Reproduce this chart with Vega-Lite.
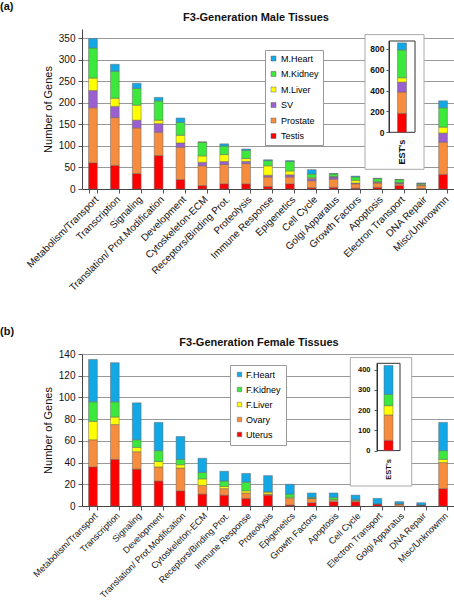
{
"$schema": "https://vega.github.io/schema/vega-lite/v6.json",
"padding": {"left": 0, "top": 1, "right": 0, "bottom": 0},
"background": "white",
"spacing": 33,
"resolve": {"scale": {"color": "independent"}, "legend": {"color": "independent"}},
"config": {
  "font": "Liberation Sans",
  "view": {"stroke": null},
  "axis": {"labelColor": "#111", "titleColor": "#111", "domainColor": "#555", "tickColor": "#555"},
  "title": {"color": "#111"}
},
"datasets": {
  "male": [
    {"c":"Metabolism/Transport","t":"Testis","n":61},{"c":"Metabolism/Transport","t":"Prostate","n":128},{"c":"Metabolism/Transport","t":"SV","n":40},{"c":"Metabolism/Transport","t":"M.Liver","n":29},{"c":"Metabolism/Transport","t":"M.Kidney","n":70},{"c":"Metabolism/Transport","t":"M.Heart","n":22},
    {"c":"Transcription","t":"Testis","n":55},{"c":"Transcription","t":"Prostate","n":111},{"c":"Transcription","t":"SV","n":26},{"c":"Transcription","t":"M.Liver","n":19},{"c":"Transcription","t":"M.Kidney","n":63},{"c":"Transcription","t":"M.Heart","n":16},
    {"c":"Signaling","t":"Testis","n":36},{"c":"Signaling","t":"Prostate","n":106},{"c":"Signaling","t":"SV","n":18},{"c":"Signaling","t":"M.Liver","n":35},{"c":"Signaling","t":"M.Kidney","n":39},{"c":"Signaling","t":"M.Heart","n":12},
    {"c":"Translation/ Prot.Modification","t":"Testis","n":78},{"c":"Translation/ Prot.Modification","t":"Prostate","n":54},{"c":"Translation/ Prot.Modification","t":"SV","n":20},{"c":"Translation/ Prot.Modification","t":"M.Liver","n":8},{"c":"Translation/ Prot.Modification","t":"M.Kidney","n":45},{"c":"Translation/ Prot.Modification","t":"M.Heart","n":8},
    {"c":"Development","t":"Testis","n":22},{"c":"Development","t":"Prostate","n":75},{"c":"Development","t":"SV","n":10},{"c":"Development","t":"M.Liver","n":18},{"c":"Development","t":"M.Kidney","n":30},{"c":"Development","t":"M.Heart","n":10},
    {"c":"Cytoskeleton-ECM","t":"Testis","n":8},{"c":"Cytoskeleton-ECM","t":"Prostate","n":46},{"c":"Cytoskeleton-ECM","t":"SV","n":8},{"c":"Cytoskeleton-ECM","t":"M.Liver","n":15},{"c":"Cytoskeleton-ECM","t":"M.Kidney","n":32},{"c":"Cytoskeleton-ECM","t":"M.Heart","n":0},
    {"c":"Receptors/Binding Prot.","t":"Testis","n":12},{"c":"Receptors/Binding Prot.","t":"Prostate","n":45},{"c":"Receptors/Binding Prot.","t":"SV","n":7},{"c":"Receptors/Binding Prot.","t":"M.Liver","n":16},{"c":"Receptors/Binding Prot.","t":"M.Kidney","n":20},{"c":"Receptors/Binding Prot.","t":"M.Heart","n":5},
    {"c":"Proteolysis","t":"Testis","n":12},{"c":"Proteolysis","t":"Prostate","n":47},{"c":"Proteolysis","t":"SV","n":5},{"c":"Proteolysis","t":"M.Liver","n":7},{"c":"Proteolysis","t":"M.Kidney","n":19},{"c":"Proteolysis","t":"M.Heart","n":3},
    {"c":"Immune Response","t":"Testis","n":6},{"c":"Immune Response","t":"Prostate","n":22},{"c":"Immune Response","t":"SV","n":4},{"c":"Immune Response","t":"M.Liver","n":22},{"c":"Immune Response","t":"M.Kidney","n":12},{"c":"Immune Response","t":"M.Heart","n":2},
    {"c":"Epigenetics","t":"Testis","n":12},{"c":"Epigenetics","t":"Prostate","n":16},{"c":"Epigenetics","t":"SV","n":5},{"c":"Epigenetics","t":"M.Liver","n":9},{"c":"Epigenetics","t":"M.Kidney","n":22},{"c":"Epigenetics","t":"M.Heart","n":2},
    {"c":"Cell Cycle","t":"Testis","n":3},{"c":"Cell Cycle","t":"Prostate","n":16},{"c":"Cell Cycle","t":"SV","n":5},{"c":"Cell Cycle","t":"M.Liver","n":2},{"c":"Cell Cycle","t":"M.Kidney","n":9},{"c":"Cell Cycle","t":"M.Heart","n":10},
    {"c":"Golgi Apparatus","t":"Testis","n":4},{"c":"Golgi Apparatus","t":"Prostate","n":19},{"c":"Golgi Apparatus","t":"SV","n":5},{"c":"Golgi Apparatus","t":"M.Liver","n":1},{"c":"Golgi Apparatus","t":"M.Kidney","n":6},{"c":"Golgi Apparatus","t":"M.Heart","n":1},
    {"c":"Growth Factors","t":"Testis","n":2},{"c":"Growth Factors","t":"Prostate","n":10},{"c":"Growth Factors","t":"SV","n":2},{"c":"Growth Factors","t":"M.Liver","n":6},{"c":"Growth Factors","t":"M.Kidney","n":8},{"c":"Growth Factors","t":"M.Heart","n":2},
    {"c":"Apoptosis","t":"Testis","n":4},{"c":"Apoptosis","t":"Prostate","n":10},{"c":"Apoptosis","t":"SV","n":2},{"c":"Apoptosis","t":"M.Liver","n":1},{"c":"Apoptosis","t":"M.Kidney","n":7},{"c":"Apoptosis","t":"M.Heart","n":1},
    {"c":"Electron Transport","t":"Testis","n":8},{"c":"Electron Transport","t":"Prostate","n":4},{"c":"Electron Transport","t":"SV","n":2},{"c":"Electron Transport","t":"M.Liver","n":1},{"c":"Electron Transport","t":"M.Kidney","n":7},{"c":"Electron Transport","t":"M.Heart","n":0},
    {"c":"DNA Repair","t":"Testis","n":1},{"c":"DNA Repair","t":"Prostate","n":7},{"c":"DNA Repair","t":"SV","n":1},{"c":"DNA Repair","t":"M.Liver","n":2},{"c":"DNA Repair","t":"M.Kidney","n":2},{"c":"DNA Repair","t":"M.Heart","n":1},
    {"c":"Misc/Unknowmn","t":"Testis","n":34},{"c":"Misc/Unknowmn","t":"Prostate","n":75},{"c":"Misc/Unknowmn","t":"SV","n":21},{"c":"Misc/Unknowmn","t":"M.Liver","n":14},{"c":"Misc/Unknowmn","t":"M.Kidney","n":45},{"c":"Misc/Unknowmn","t":"M.Heart","n":16}
  ],
  "maleEST": [
    {"c":"EST's","t":"Testis","n":182},{"c":"EST's","t":"Prostate","n":204},{"c":"EST's","t":"SV","n":95},{"c":"EST's","t":"M.Liver","n":42},{"c":"EST's","t":"M.Kidney","n":267},{"c":"EST's","t":"M.Heart","n":67}
  ],
  "female": [
    {"c":"Metabolism/Transport","t":"Uterus","n":36},{"c":"Metabolism/Transport","t":"Ovary","n":25},{"c":"Metabolism/Transport","t":"F.Liver","n":17},{"c":"Metabolism/Transport","t":"F.Kidney","n":18},{"c":"Metabolism/Transport","t":"F.Heart","n":39},
    {"c":"Transcription","t":"Uterus","n":43},{"c":"Transcription","t":"Ovary","n":32},{"c":"Transcription","t":"F.Liver","n":7},{"c":"Transcription","t":"F.Kidney","n":14},{"c":"Transcription","t":"F.Heart","n":36},
    {"c":"Signaling","t":"Uterus","n":34},{"c":"Signaling","t":"Ovary","n":16},{"c":"Signaling","t":"F.Liver","n":4},{"c":"Signaling","t":"F.Kidney","n":7},{"c":"Signaling","t":"F.Heart","n":34},
    {"c":"Development","t":"Uterus","n":23},{"c":"Development","t":"Ovary","n":13},{"c":"Development","t":"F.Liver","n":5},{"c":"Development","t":"F.Kidney","n":10},{"c":"Development","t":"F.Heart","n":26},
    {"c":"Translation/ Prot.Modification","t":"Uterus","n":14},{"c":"Translation/ Prot.Modification","t":"Ovary","n":21},{"c":"Translation/ Prot.Modification","t":"F.Liver","n":3},{"c":"Translation/ Prot.Modification","t":"F.Kidney","n":5},{"c":"Translation/ Prot.Modification","t":"F.Heart","n":21},
    {"c":"Cytoskeleton-ECM","t":"Uterus","n":11},{"c":"Cytoskeleton-ECM","t":"Ovary","n":8},{"c":"Cytoskeleton-ECM","t":"F.Liver","n":6},{"c":"Cytoskeleton-ECM","t":"F.Kidney","n":6},{"c":"Cytoskeleton-ECM","t":"F.Heart","n":13},
    {"c":"Receptors/Binding Prot.","t":"Uterus","n":10},{"c":"Receptors/Binding Prot.","t":"Ovary","n":6},{"c":"Receptors/Binding Prot.","t":"F.Liver","n":2},{"c":"Receptors/Binding Prot.","t":"F.Kidney","n":5},{"c":"Receptors/Binding Prot.","t":"F.Heart","n":9},
    {"c":"Immune Response","t":"Uterus","n":7},{"c":"Immune Response","t":"Ovary","n":5},{"c":"Immune Response","t":"F.Liver","n":2},{"c":"Immune Response","t":"F.Kidney","n":8},{"c":"Immune Response","t":"F.Heart","n":8},
    {"c":"Proteolysis","t":"Uterus","n":10},{"c":"Proteolysis","t":"Ovary","n":1},{"c":"Proteolysis","t":"F.Liver","n":2},{"c":"Proteolysis","t":"F.Kidney","n":0},{"c":"Proteolysis","t":"F.Heart","n":15},
    {"c":"Epigenetics","t":"Uterus","n":1},{"c":"Epigenetics","t":"Ovary","n":6},{"c":"Epigenetics","t":"F.Liver","n":1},{"c":"Epigenetics","t":"F.Kidney","n":3},{"c":"Epigenetics","t":"F.Heart","n":9},
    {"c":"Growth Factors","t":"Uterus","n":3},{"c":"Growth Factors","t":"Ovary","n":4},{"c":"Growth Factors","t":"F.Liver","n":0},{"c":"Growth Factors","t":"F.Kidney","n":1},{"c":"Growth Factors","t":"F.Heart","n":4},
    {"c":"Apoptosis","t":"Uterus","n":4},{"c":"Apoptosis","t":"Ovary","n":1},{"c":"Apoptosis","t":"F.Liver","n":1},{"c":"Apoptosis","t":"F.Kidney","n":2},{"c":"Apoptosis","t":"F.Heart","n":4},
    {"c":"Cell Cycle","t":"Uterus","n":4},{"c":"Cell Cycle","t":"Ovary","n":1},{"c":"Cell Cycle","t":"F.Liver","n":0},{"c":"Cell Cycle","t":"F.Kidney","n":1},{"c":"Cell Cycle","t":"F.Heart","n":4},
    {"c":"Electron Transport","t":"Uterus","n":2},{"c":"Electron Transport","t":"Ovary","n":0},{"c":"Electron Transport","t":"F.Liver","n":0},{"c":"Electron Transport","t":"F.Kidney","n":0},{"c":"Electron Transport","t":"F.Heart","n":5},
    {"c":"Golgi Apparatus","t":"Uterus","n":0},{"c":"Golgi Apparatus","t":"Ovary","n":2},{"c":"Golgi Apparatus","t":"F.Liver","n":0},{"c":"Golgi Apparatus","t":"F.Kidney","n":0},{"c":"Golgi Apparatus","t":"F.Heart","n":2},
    {"c":"DNA Repair","t":"Uterus","n":1},{"c":"DNA Repair","t":"Ovary","n":0},{"c":"DNA Repair","t":"F.Liver","n":0},{"c":"DNA Repair","t":"F.Kidney","n":0},{"c":"DNA Repair","t":"F.Heart","n":2},
    {"c":"Misc/Unknowmn","t":"Uterus","n":16},{"c":"Misc/Unknowmn","t":"Ovary","n":24},{"c":"Misc/Unknowmn","t":"F.Liver","n":3},{"c":"Misc/Unknowmn","t":"F.Kidney","n":8},{"c":"Misc/Unknowmn","t":"F.Heart","n":26}
  ],
  "femaleEST": [
    {"c":"EST's","t":"Uterus","n":51},{"c":"EST's","t":"Ovary","n":125},{"c":"EST's","t":"F.Liver","n":46},{"c":"EST's","t":"F.Kidney","n":56},{"c":"EST's","t":"F.Heart","n":142}
  ],
  "estCat": [{"c":"EST's"}],
  "one": [{}]
},
"vconcat": [
{
  "title": {"text": "(a)", "anchor": "start", "frame": "group", "dx": -82, "fontSize": 11, "fontWeight": "bold", "offset": 0},
  "vconcat": [{
    "width": 372, "height": 160,
    "title": {"text": "F3-Generation Male Tissues", "fontSize": 11, "fontWeight": "bold", "frame": "group", "dx": -12, "offset": 6},
    "resolve": {"scale": {"x": "independent", "y": "independent"}},
    "layer": [
      {
        "data": {"name": "male"},
        "transform": [{"calculate": "indexof(['Testis','Prostate','SV','M.Liver','M.Kidney','M.Heart'], datum.t)", "as": "k"}],
        "mark": {"type": "bar", "stroke": "#666", "strokeWidth": 0.5},
        "encoding": {
          "x": {"field": "c", "type": "nominal",
            "sort": ["Metabolism/Transport","Transcription","Signaling","Translation/ Prot.Modification","Development","Cytoskeleton-ECM","Receptors/Binding Prot.","Proteolysis","Immune Response","Epigenetics","Cell Cycle","Golgi Apparatus","Growth Factors","Apoptosis","Electron Transport","DNA Repair","Misc/Unknowmn"],
            "scale": {"paddingInner": 0.6, "paddingOuter": 0.3},
            "axis": {"title": null, "labelAngle": -45, "labelFontSize": 10, "tickBand": "extent", "tickSize": 4, "labelPadding": 1, "domainColor": "#444"}},
          "y": {"field": "n", "type": "quantitative", "stack": "zero",
            "scale": {"domain": [0, 372], "nice": false},
            "axis": {"title": "Number of Genes", "values": [0,50,100,150,200,250,300,350], "titleFontSize": 11, "titleFontWeight": "normal", "labelFontSize": 10, "titlePadding": 5, "gridColor": "#999", "tickSize": 4, "labelPadding": 3, "domainColor": "#444"}},
          "order": {"field": "k", "type": "quantitative"},
          "color": {"field": "t", "type": "nominal",
            "scale": {"domain": ["Testis","Prostate","SV","M.Liver","M.Kidney","M.Heart"], "range": ["#FF0000","#F68D3E","#9B5FCF","#FFFF00","#3CE83C","#12A8E6"]},
            "legend": {"title": null, "orient": "none", "legendX": 183, "legendY": 21, "values": ["M.Heart","M.Kidney","M.Liver","SV","Prostate","Testis"], "symbolType": "square", "symbolSize": 25, "symbolStrokeColor": "#555", "symbolStrokeWidth": 0.5, "labelFontSize": 9, "labelOffset": 3, "rowPadding": 5.5, "padding": 4, "strokeColor": "#999", "fillColor": "white"}}
        }
      },
      {
        "data": {"name": "one"},
        "mark": {"type": "rect", "fill": "white", "stroke": "#aaa", "strokeWidth": 1},
        "encoding": {
          "x": {"datum": 0, "type": "quantitative", "scale": {"domain": [0, 1], "range": [283, 342], "nice": false, "zero": false}, "axis": null},
          "x2": {"datum": 1},
          "y": {"datum": 0, "type": "quantitative", "scale": {"domain": [0, 1], "range": [140.3, 5.6], "nice": false, "zero": false}, "axis": null},
          "y2": {"datum": 1}
        }
      },
      {
        "layer": [
          {
            "data": {"name": "estCat"},
            "mark": {"type": "rect", "fill": "white", "fillOpacity": 0, "stroke": "#333", "strokeWidth": 1},
            "encoding": {
              "x": {"field": "c", "type": "nominal", "scale": {"domain": ["EST's"], "range": [307, 333], "paddingInner": 0, "paddingOuter": 0},
                "axis": {"orient": "bottom", "offset": -56.7, "title": null, "labelAngle": -90, "labelFontSize": 9, "labelFontWeight": "bold", "ticks": false, "domain": false, "grid": false, "zindex": 1, "labelPadding": 7}},
              "y": {"datum": 0, "type": "quantitative", "scale": {"domain": [0, 875], "range": [103.3, 12], "nice": false},
                "axis": {"orient": "left", "offset": -307, "title": null, "values": [0,200,400,600,800], "grid": false, "zindex": 1, "labelFontSize": 8.5, "labelFontWeight": "bold", "tickSize": 3, "labelPadding": 2, "domainColor": "#333"}},
              "y2": {"datum": 875}
            }
          },
          {
            "data": {"name": "maleEST"},
            "transform": [{"calculate": "indexof(['Testis','Prostate','SV','M.Liver','M.Kidney','M.Heart'], datum.t)", "as": "k"}],
            "mark": {"type": "bar", "size": 9, "stroke": "#666", "strokeWidth": 0.5},
            "encoding": {
              "x": {"field": "c", "type": "nominal", "scale": {"domain": ["EST's"], "range": [307, 333], "paddingInner": 0, "paddingOuter": 0},
                "axis": {"orient": "bottom", "offset": -56.7, "title": null, "labelAngle": -90, "labelFontSize": 9, "labelFontWeight": "bold", "ticks": false, "domain": false, "grid": false, "zindex": 1, "labelPadding": 7}},
              "y": {"field": "n", "type": "quantitative", "stack": "zero", "scale": {"domain": [0, 875], "range": [103.3, 12], "nice": false},
                "axis": {"orient": "left", "offset": -307, "title": null, "values": [0,200,400,600,800], "grid": false, "zindex": 1, "labelFontSize": 8.5, "labelFontWeight": "bold", "tickSize": 3, "labelPadding": 2, "domainColor": "#333"}},
              "order": {"field": "k", "type": "quantitative"},
              "color": {"field": "t", "type": "nominal"}
            }
          }
        ]
      }
    ]
  }]
},
{
  "title": {"text": "(b)", "anchor": "start", "frame": "group", "dx": -82, "fontSize": 11, "fontWeight": "bold", "offset": 0},
  "vconcat": [{
    "width": 372, "height": 152,
    "title": {"text": "F3-Generation Female Tissues", "fontSize": 11, "fontWeight": "bold", "frame": "group", "dx": -9, "offset": 1},
    "resolve": {"scale": {"x": "independent", "y": "independent"}},
    "layer": [
      {
        "data": {"name": "female"},
        "transform": [{"calculate": "indexof(['Uterus','Ovary','F.Liver','F.Kidney','F.Heart'], datum.t)", "as": "k"}],
        "mark": {"type": "bar", "stroke": "#666", "strokeWidth": 0.5},
        "encoding": {
          "x": {"field": "c", "type": "nominal",
            "sort": ["Metabolism/Transport","Transcription","Signaling","Development","Translation/ Prot.Modification","Cytoskeleton-ECM","Receptors/Binding Prot.","Immune Response","Proteolysis","Epigenetics","Growth Factors","Apoptosis","Cell Cycle","Electron Transport","Golgi Apparatus","DNA Repair","Misc/Unknowmn"],
            "scale": {"paddingInner": 0.6, "paddingOuter": 0.3},
            "axis": {"title": null, "labelAngle": -45, "labelFontSize": 9, "tickBand": "extent", "tickSize": 4, "labelPadding": 1, "domainColor": "#444"}},
          "y": {"field": "n", "type": "quantitative", "stack": "zero",
            "scale": {"domain": [0, 140], "nice": false},
            "axis": {"title": "Number of Genes", "values": [0,20,40,60,80,100,120,140], "titleFontSize": 11, "titleFontWeight": "normal", "labelFontSize": 10, "titlePadding": 5, "gridColor": "#999", "tickSize": 4, "labelPadding": 3, "domainColor": "#444"}},
          "order": {"field": "k", "type": "quantitative"},
          "color": {"field": "t", "type": "nominal",
            "scale": {"domain": ["Uterus","Ovary","F.Liver","F.Kidney","F.Heart"], "range": ["#FF0000","#F68D3E","#FFFF00","#3CE83C","#12A8E6"]},
            "legend": {"title": null, "orient": "none", "legendX": 148, "legendY": 11, "values": ["F.Heart","F.Kidney","F.Liver","Ovary","Uterus"], "symbolType": "square", "symbolSize": 20, "symbolStrokeColor": "#555", "symbolStrokeWidth": 0.5, "labelFontSize": 9, "labelOffset": 2, "rowPadding": 5, "padding": 5, "strokeColor": "#999", "fillColor": "white"}}
        }
      },
      {
        "data": {"name": "one"},
        "mark": {"type": "rect", "fill": "white", "stroke": "#aaa", "strokeWidth": 1},
        "encoding": {
          "x": {"datum": 0, "type": "quantitative", "scale": {"domain": [0, 1], "range": [268.3, 329.7], "nice": false, "zero": false}, "axis": null},
          "x2": {"datum": 1},
          "y": {"datum": 0, "type": "quantitative", "scale": {"domain": [0, 1], "range": [132, 3.6], "nice": false, "zero": false}, "axis": null},
          "y2": {"datum": 1}
        }
      },
      {
        "layer": [
          {
            "data": {"name": "estCat"},
            "mark": {"type": "rect", "fill": "white", "fillOpacity": 0, "stroke": "#333", "strokeWidth": 1},
            "encoding": {
              "x": {"field": "c", "type": "nominal", "scale": {"domain": ["EST's"], "range": [295, 318], "paddingInner": 0, "paddingOuter": 0},
                "axis": {"orient": "bottom", "offset": -55.4, "title": null, "labelAngle": -90, "labelFontSize": 7.5, "labelFontWeight": "bold", "ticks": false, "domain": false, "grid": false, "zindex": 1, "labelPadding": 8}},
              "y": {"datum": 0, "type": "quantitative", "scale": {"domain": [0, 431], "range": [96.6, 9.3], "nice": false},
                "axis": {"orient": "left", "offset": -295, "title": null, "values": [0,100,200,300,400], "grid": false, "zindex": 1, "labelFontSize": 7.5, "labelFontWeight": "bold", "tickSize": 3, "labelPadding": 4, "domainColor": "#333"}},
              "y2": {"datum": 431}
            }
          },
          {
            "data": {"name": "femaleEST"},
            "transform": [{"calculate": "indexof(['Uterus','Ovary','F.Liver','F.Kidney','F.Heart'], datum.t)", "as": "k"}],
            "mark": {"type": "bar", "size": 9, "stroke": "#666", "strokeWidth": 0.5},
            "encoding": {
              "x": {"field": "c", "type": "nominal", "scale": {"domain": ["EST's"], "range": [295, 318], "paddingInner": 0, "paddingOuter": 0},
                "axis": {"orient": "bottom", "offset": -55.4, "title": null, "labelAngle": -90, "labelFontSize": 7.5, "labelFontWeight": "bold", "ticks": false, "domain": false, "grid": false, "zindex": 1, "labelPadding": 8}},
              "y": {"field": "n", "type": "quantitative", "stack": "zero", "scale": {"domain": [0, 431], "range": [96.6, 9.3], "nice": false},
                "axis": {"orient": "left", "offset": -295, "title": null, "values": [0,100,200,300,400], "grid": false, "zindex": 1, "labelFontSize": 7.5, "labelFontWeight": "bold", "tickSize": 3, "labelPadding": 4, "domainColor": "#333"}},
              "order": {"field": "k", "type": "quantitative"},
              "color": {"field": "t", "type": "nominal"}
            }
          }
        ]
      }
    ]
  }]
}
]
}
